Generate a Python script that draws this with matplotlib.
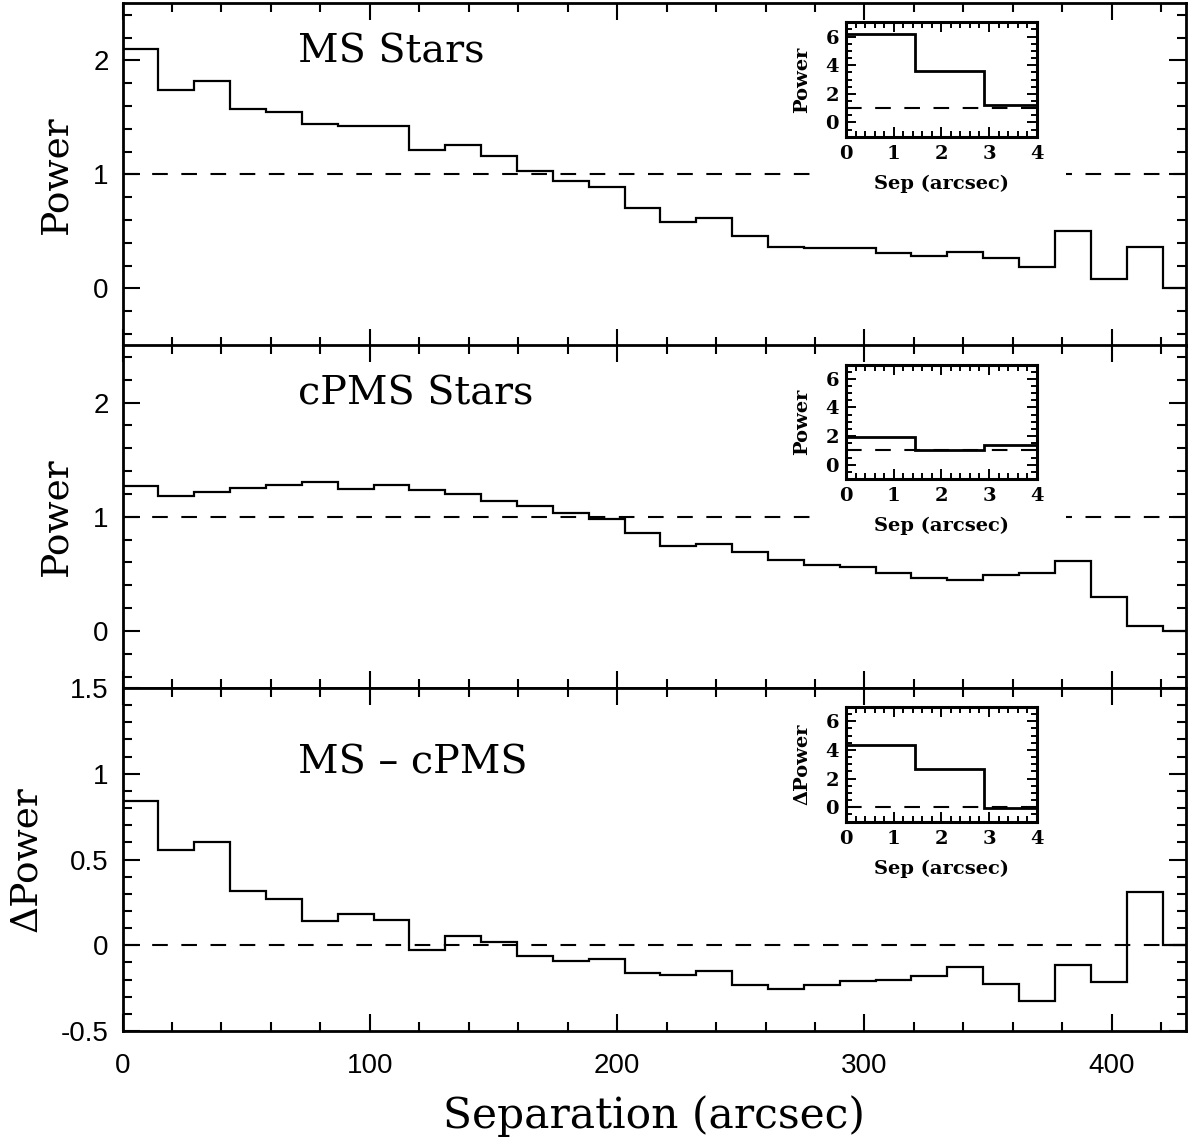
import numpy as np
import matplotlib
matplotlib.use("Agg")
import matplotlib.pyplot as plt
from matplotlib.ticker import MultipleLocator, FixedLocator, FuncFormatter
from matplotlib.patches import Rectangle

plt.rcParams['axes.unicode_minus'] = False

# ---------------- data ----------------
bin_edges = [0, 14.5, 29, 43.5, 58, 72.5, 87, 101.5, 116, 130.5, 145, 159.5, 174,
             188.5, 203, 217.5, 232, 246.5, 261, 275.5, 290, 304.5, 319, 333.5,
             348, 362.5, 377, 391.5, 406, 420.5, 435]

ms_power = [2.10, 1.74, 1.82, 1.57, 1.545, 1.446, 1.426, 1.426, 1.213, 1.257,
            1.163, 1.032, 0.942, 0.892, 0.703, 0.586, 0.615, 0.461, 0.367, 0.359,
            0.353, 0.309, 0.286, 0.324, 0.271, 0.187, 0.507, 0.082, 0.362, 0.0]

cpms_power = [1.270, 1.185, 1.220, 1.253, 1.276, 1.305, 1.241, 1.276, 1.235, 1.200,
              1.136, 1.095, 1.036, 0.978, 0.861, 0.747, 0.765, 0.692, 0.622, 0.581,
              0.561, 0.508, 0.464, 0.447, 0.488, 0.505, 0.616, 0.298, 0.044, 0.0]

diff_power = [0.840, 0.555, 0.602, 0.316, 0.270, 0.141, 0.180, 0.150, -0.029, 0.055,
              0.020, -0.064, -0.094, -0.079, -0.160, -0.172, -0.148, -0.230, -0.254, -0.229,
              -0.209, -0.205, -0.182, -0.129, -0.227, -0.326, -0.117, -0.217, 0.313, 0.0]

inset_edges = [0, 1.45, 2.9, 4.35]
inset_ms = [6.2, 3.6, 1.25]
inset_cpms = [1.95, 1.0, 1.35]
inset_diff = [4.35, 2.65, -0.07]

panel_titles = ["MS Stars", "cPMS Stars", "MS \u2013 cPMS"]
panel_ylabels = ["Power", "Power", "\u0394Power"]
inset_ylabels = ["Power", "Power", "\u0394Power"]
ref_levels = [1.0, 1.0, 0.0]

# ---------------- layout ----------------
W, H = 1188, 1141
fig = plt.figure(figsize=(W / 100, H / 100), dpi=100)

left_px, right_px = 122.5, 1186.0
panel_px = [(3.3, 345.5), (345.5, 688.0), (688.0, 1031.0)]

def fx(px):
    return px / W

def fy(py):
    return 1 - py / H

sans = ['Liberation Sans', 'DejaVu Sans']
serif = ['DejaVu Serif']

dash = (7.5, 6.5)

series = [ms_power, cpms_power, diff_power]
inset_series = [inset_ms, inset_cpms, inset_diff]

for i in range(3):
    top, bot = panel_px[i]
    ax = fig.add_axes([fx(left_px), fy(bot), fx(right_px - left_px), (bot - top) / H])
    ax.set_xlim(0, 430)
    if i < 2:
        ax.set_ylim(-0.5, 2.5)
        ax.yaxis.set_major_locator(FixedLocator([0, 1, 2]))
        ax.yaxis.set_minor_locator(MultipleLocator(0.2))
    else:
        ax.set_ylim(-0.5, 1.5)
        ax.yaxis.set_major_locator(MultipleLocator(0.5))
        ax.yaxis.set_minor_locator(MultipleLocator(0.1))
    ax.yaxis.set_major_formatter(FuncFormatter(lambda v, p: '%g' % v))
    ax.xaxis.set_major_locator(MultipleLocator(100))
    ax.xaxis.set_minor_locator(MultipleLocator(20))
    ax.xaxis.set_major_formatter(FuncFormatter(lambda v, p: '%d' % v))

    ax.tick_params(which='both', direction='in', top=True, right=True, width=1.5,
                   labelsize=20)
    ax.tick_params(which='major', length=12.5)
    ax.tick_params(which='minor', length=6.5)
    ax.tick_params(axis='y', which='major', pad=10)
    ax.tick_params(axis='x', which='major', pad=16)
    for lab in ax.get_xticklabels() + ax.get_yticklabels():
        lab.set_fontfamily(sans)
    if i < 2:
        ax.tick_params(axis='x', labelbottom=False)
    for sp in ax.spines.values():
        sp.set_linewidth(2.0)

    ax.axhline(ref_levels[i], color='k', lw=1.5, ls=(0, dash), zorder=2)
    ax.stairs(series[i], bin_edges, baseline=None, color='k', lw=1.6, zorder=3)

    # white box behind the inset and its labels
    ins_top = top + 19
    ins_bot = ins_top + 114.5
    ax.add_patch(Rectangle((fx(810), fy(ins_bot + 62)), fx(1066 - 810), (ins_bot + 62 - ins_top) / H,
                           transform=fig.transFigure, facecolor='white', edgecolor='none',
                           zorder=2.2))

    # panel title
    ax.text(71, 1.98 if i < 2 else 1.0, panel_titles[i], fontsize=28.5, family=serif,
            ha='left', va='baseline', zorder=4)

    ax.set_ylabel(panel_ylabels[i], fontsize=27, family=serif, va='center')
    ax.yaxis.set_label_coords(((56 if i < 2 else 26) - left_px) / (right_px - left_px), 0.5)

    if i == 2:
        ax.set_xlabel("Separation (arcsec)", fontsize=30.5, family=serif, va='center')
        ax.xaxis.set_label_coords(0.5, -(1116 - bot) / (bot - top))

    # inset
    iax = fig.add_axes([fx(846), fy(ins_bot), fx(1036.7 - 846), (ins_bot - ins_top) / H], zorder=5)
    iax.set_xlim(0, 4)
    iax.set_ylim(-1, 7)
    iax.xaxis.set_major_locator(MultipleLocator(1))
    iax.xaxis.set_minor_locator(MultipleLocator(0.2))
    iax.yaxis.set_major_locator(MultipleLocator(2))
    iax.yaxis.set_minor_locator(MultipleLocator(0.5))
    iax.tick_params(which='both', direction='in', top=True, right=True, width=1.4,
                    labelsize=14, pad=5)
    iax.tick_params(axis='x', which='major', pad=6)
    iax.tick_params(which='major', length=7.5)
    iax.tick_params(which='minor', length=4)
    for lab in iax.get_xticklabels() + iax.get_yticklabels():
        lab.set_fontfamily(serif)
        lab.set_fontweight('bold')
    for sp in iax.spines.values():
        sp.set_linewidth(2.2)
    iax.axhline(ref_levels[i] if i < 2 else 0.0, color='k', lw=1.5, ls=(0, dash), zorder=2)
    iax.stairs(inset_series[i], inset_edges, baseline=None, color='k', lw=2.0, zorder=3)
    iax.set_ylabel(inset_ylabels[i], fontsize=14, family=serif, fontweight='bold', va='center')
    iax.yaxis.set_label_coords(-44 / 190.7, 0.5)
    iax.set_xlabel("Sep (arcsec)", fontsize=14, family=serif, fontweight='bold', va='center')
    iax.xaxis.set_label_coords(0.5, -(184 - 136.7) / 114.5)

fig.savefig("out.png", dpi=100)
